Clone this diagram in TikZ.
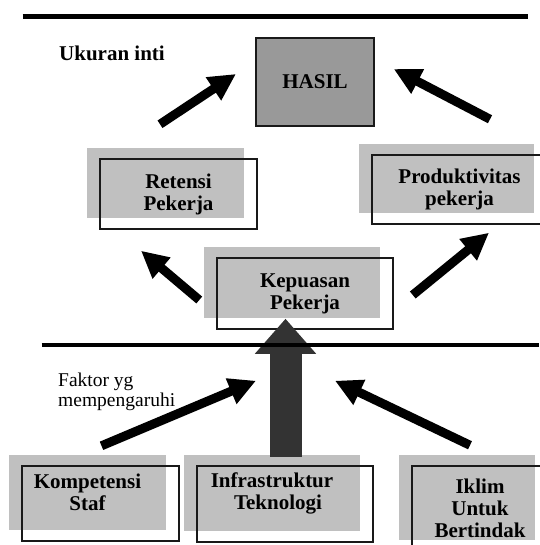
\documentclass[tikz,border=0pt]{standalone}
\usepackage{fontspec}
\setmainfont{Liberation Serif}
\usetikzlibrary{arrows.meta}
\definecolor{boxgray}{HTML}{C0C0C0}
\definecolor{hasilgray}{HTML}{999999}
\definecolor{pillargray}{HTML}{333333}
\begin{document}
\begin{tikzpicture}[x=1pt,y=-1pt,
  boxfont/.style={font=\fontsize{21}{22}\selectfont\bfseries,align=center,inner sep=0},
  framed/.style={boxfont,draw=black!90,line width=1.5pt,
    preaction={fill=boxgray,transform canvas={shift={(-13pt,11pt)}}}},
  shaded/.style={boxfont,fill=boxgray,
    postaction={draw=black!90,line width=1.5pt,transform canvas={shift={(13pt,-11pt)}}}},
  fat/.style={line width=9pt,-{Triangle[length=27pt,width=26pt]}},
  pillar/.style={line width=32pt,draw=pillargray,-{Triangle[length=35pt,width=59pt]}},
  rule/.style={line width=4.5pt}]
\useasboundingbox (0,0) rectangle (539,545);
\node (core) [anchor=west,inner sep=0,font=\fontsize{21}{22}\selectfont\bfseries] at (59,53) {Ukuran inti};
\node (hasil) [boxfont,fill=hasilgray,draw=black!90,line width=1.5pt,minimum width=118,minimum height=88] at (315,82) {HASIL};
\node (ret) [framed,minimum width=157,minimum height=70] at (178.5,194) {Retensi\\Pekerja};
\node (prod) [framed,minimum width=175,minimum height=69] at (459.5,189.5) {Produktivitas\\pekerja};
\node (kep) [framed,minimum width=176,minimum height=71] at (305,293.5) {Kepuasan\\Pekerja};
\node (faktor) [anchor=west,inner sep=0,align=left,font=\fontsize{19.5}{20}\selectfont] at (58,391.7) {Faktor yg\\mempengaruhi};
\node (komp) [shaded,minimum width=157,minimum height=75] at (87.5,492.5) {Kompetensi\\Staf};
\node (infra) [shaded,minimum width=176,minimum height=76] at (272,493) {Infrastruktur\\\hspace*{12pt}Teknologi};
\node (iklim) [framed,minimum width=136,minimum height=85] at (480,508.5) {Iklim\\Untuk\\Bertindak};
% arrows up to HASIL
\draw[fat] ([shift={(-18.5,-34)}]ret.north) -- ([shift={(-19.3,-8)}]hasil.west);
\draw[fat] ([shift={(30.5,-35)}]prod.north) -- ([shift={(19,-13)}]hasil.east);
% arrows out of Kepuasan
\draw[fat] ([shift={(-17,6.5)}]kep.west) -- ([shift={(-37.5,21)}]ret.south);
\draw[fat] ([shift={(19,1.5)}]kep.east) -- ([shift={(29.5,8)}]prod.south);
% factors
\draw[fat] ([shift={(14,-9)}]komp.north) -- ([shift={(-49,51)}]kep.south);
\draw[fat] ([shift={(-10,-20)}]iklim.north) -- ([shift={(30,51)}]kep.south);
\draw[pillar] ([shift={(13.5,1.7)}]infra.north) -- ([shift={(-19.5,-11)}]kep.south);
% rules
\draw[rule] (22.7,16.7) -- (528,16.7);
\draw[rule] (41.7,345) -- (539,345);
\end{tikzpicture}
\end{document}
